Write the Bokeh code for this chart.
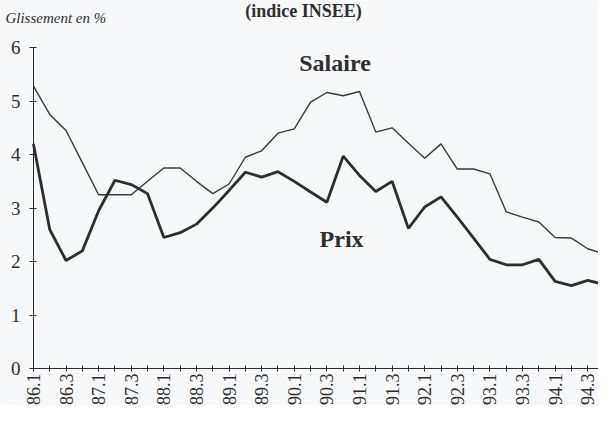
import math
from bokeh.plotting import figure
from bokeh.models import Range1d, FixedTicker, Label
from bokeh.embed import file_html
from bokeh.resources import INLINE

quarters = ["86.1", "86.2", "86.3", "86.4", "87.1", "87.2", "87.3", "87.4",
            "88.1", "88.2", "88.3", "88.4", "89.1", "89.2", "89.3", "89.4",
            "90.1", "90.2", "90.3", "90.4", "91.1", "91.2", "91.3", "91.4",
            "92.1", "92.2", "92.3", "92.4", "93.1", "93.2", "93.3", "93.4",
            "94.1", "94.2", "94.3", "94.4"]

salaire = [5.28, 4.75, 4.45, 3.85, 3.25, 3.25, 3.25, 3.5, 3.75, 3.75,
           3.5, 3.27, 3.45, 3.95, 4.07, 4.4, 4.48, 4.98, 5.16, 5.1,
           5.18, 4.42, 4.5, 4.21, 3.93, 4.2, 3.73, 3.73, 3.64, 2.93,
           2.83, 2.74, 2.45, 2.44, 2.24, 2.14]

prix = [4.2, 2.6, 2.02, 2.2, 2.95, 3.52, 3.44, 3.27, 2.45, 2.54,
        2.7, 3.0, 3.33, 3.67, 3.58, 3.68, 3.5, 3.3, 3.11, 3.97,
        3.61, 3.31, 3.5, 2.62, 3.02, 3.21, 2.83, 2.44, 2.04, 1.94,
        1.94, 2.04, 1.63, 1.55, 1.65, 1.57]

y_ticks = [0, 1, 2, 3, 4, 5, 6]

title_text = "(indice INSEE)"
y_title = "Glissement en %"
name_salaire = "Salaire"
name_prix = "Prix"

idx = list(range(len(quarters)))

BG = "#f7f8fa"
INK = "#2e2e2e"
SERIF = "Liberation Serif"

X_END = 34.66
p = figure(width=598, height=405, output_backend="svg", toolbar_location=None,
           x_range=Range1d(-2.02, X_END), y_range=Range1d(-0.69, 6.88),
           min_border=0)
p.background_fill_color = BG
p.border_fill_color = BG
p.outline_line_color = None
p.xgrid.visible = False
p.ygrid.visible = False

# x axis (drawn at y = 0 inside the frame)
xa = p.xaxis[0]
xa.fixed_location = 0
xa.bounds = (idx[0], X_END)
xa.ticker = FixedTicker(ticks=idx)
xa.major_label_overrides = {i: (quarters[i] if i % 2 == 0 else "") for i in idx}
xa.major_label_orientation = math.pi / 2
xa.major_label_text_font = SERIF
xa.major_label_text_font_size = "18px"
xa.major_label_text_color = INK
xa.major_label_standoff = 2
xa.major_tick_in = 3
xa.major_tick_out = 3
xa.minor_tick_line_color = None
xa.axis_line_color = INK
xa.major_tick_line_color = INK

# y axis (drawn at x = 0 inside the frame)
ya = p.yaxis[0]
ya.fixed_location = 0
ya.bounds = (y_ticks[0], y_ticks[-1])
ya.ticker = FixedTicker(ticks=y_ticks)
ya.major_label_text_font = SERIF
ya.major_label_text_font_size = "19px"
ya.major_label_text_color = INK
ya.major_label_standoff = 9
ya.major_tick_in = 3
ya.major_tick_out = 4
ya.minor_tick_line_color = None
ya.axis_line_color = INK
ya.major_tick_line_color = INK

p.line(idx, salaire, line_color="#3a3a3a", line_width=1.4)
p.line(idx, prix, line_color=INK, line_width=2.8)

p.add_layout(Label(x=18.5, y=5.72, text=name_salaire, text_font=SERIF,
                   text_font_size="24px", text_font_style="bold",
                   text_color=INK, text_align="center", text_baseline="middle"))
p.add_layout(Label(x=18.9, y=2.42, text=name_prix, text_font=SERIF,
                   text_font_size="24px", text_font_style="bold",
                   text_color=INK, text_align="center", text_baseline="middle"))
p.add_layout(Label(x=-1.72, y=6.56, text=y_title, text_font=SERIF,
                   text_font_size="15px", text_font_style="italic",
                   text_color=INK, text_align="left", text_baseline="middle"))
p.add_layout(Label(x=16.56, y=6.87, text=title_text, text_font=SERIF,
                   text_font_size="18px", text_font_style="bold",
                   text_color=INK, text_align="center", text_baseline="top"))

open("out.html", "w").write(file_html(p, INLINE))
